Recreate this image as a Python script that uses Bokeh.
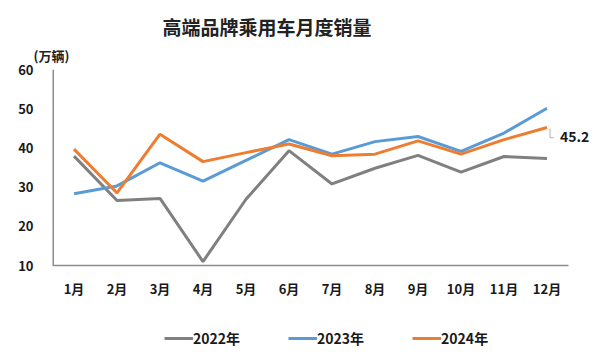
from bokeh.plotting import figure
from bokeh.models import (Range1d, FixedTicker, Legend, LegendItem, ColumnDataSource, Title)
from bokeh.core.properties import value
from bokeh.embed import file_html
from bokeh.resources import INLINE

months = ["1月", "2月", "3月", "4月", "5月", "6月", "7月", "8月", "9月", "10月", "11月", "12月"]
s2022 = [37.9, 26.6, 27.1, 11.0, 26.9, 39.3, 30.8, 34.8, 38.1, 33.8, 37.8, 37.3]
s2023 = [28.3, 30.3, 36.2, 31.5, 36.8, 42.1, 38.4, 41.6, 42.9, 39.1, 43.8, 50.1]
s2024 = [39.7, 28.5, 43.5, 36.5, 38.8, 41.0, 38.0, 38.4, 41.8, 38.4, 42.1, 45.2]
series_names = ["2022年", "2023年", "2024年"]
colors = ["#808080", "#5b9bd5", "#ed7d31"]
y_ticks = [10, 20, 30, 40, 50, 60]

FONT = "Noto Sans CJK SC"
n = len(months)
xs = [i + 0.5 for i in range(n)]
y_lo, y_hi = y_ticks[0], y_ticks[-1]

LEFT, TOP = 52, 69
FW, FH = 540, 283            # frame reaches the bottom of the canvas (legend lives inside)
PLOT_H = 196                 # pixel height of the 10..60 value band
x_end = n * FW / 516.0       # room right of the last month for the data label
y_start = y_lo - (FH - PLOT_H) * (y_hi - y_lo) / PLOT_H

p = figure(frame_width=FW, frame_height=FH, output_backend="svg", toolbar_location=None,
           x_range=Range1d(0, x_end), y_range=Range1d(y_start, y_hi),
           min_border_left=LEFT, min_border_right=0, min_border_top=TOP,
           min_border_bottom=0)
p.outline_line_color = None
p.background_fill_color = "white"
p.border_fill_color = "white"
p.xgrid.grid_line_color = None
p.ygrid.grid_line_color = None

# axes
p.xaxis.ticker = FixedTicker(ticks=xs)
p.xaxis.major_label_overrides = {x: m for x, m in zip(xs, months)}
p.xaxis.fixed_location = y_lo
p.yaxis.ticker = FixedTicker(ticks=y_ticks)
for ax in (p.xaxis[0], p.yaxis[0]):
    ax.axis_line_color = None
    ax.major_tick_line_color = None
    ax.minor_tick_line_color = None
    ax.major_label_text_font = FONT
    ax.major_label_text_font_style = "bold"
    ax.major_label_text_font_size = "13px"
    ax.major_label_text_color = "#1a1a1a"
p.yaxis.major_label_standoff = 13
p.xaxis.major_label_standoff = 7

# axis lines limited to the value band / month span
p.segment(x0=[0], y0=[y_lo], x1=[n], y1=[y_lo], line_color="#8c8c8c", line_width=1.6)
p.segment(x0=[0], y0=[y_lo], x1=[0], y1=[y_hi], line_color="#8c8c8c", line_width=3)

renderers = []
for name, data, c in zip(series_names, [s2022, s2023, s2024], colors):
    src = ColumnDataSource(dict(x=xs, y=data))
    r = p.line("x", "y", source=src, line_color=c, line_width=3)
    renderers.append(r)

# data label for last 2024 point
p.line(x=[xs[-1] + 0.07, xs[-1] + 0.07, xs[-1] + 0.16],
       y=[s2024[-1] - 0.3, s2024[-1] - 2.6, s2024[-1] - 2.6],
       line_color="#b0b0b0", line_width=1)
p.text(x=[xs[-1]], y=[s2024[-1]], text=[f"{s2024[-1]}"], x_offset=13, y_offset=9,
       text_font=value(FONT), text_font_style="bold", text_font_size="14px",
       text_color="#1a1a1a", text_baseline="middle", text_align="left")

legend = Legend(items=[LegendItem(label=nm, renderers=[r]) for nm, r in zip(series_names, renderers)],
                orientation="horizontal", location=(112, 4),
                glyph_width=29, glyph_height=18, label_height=18, label_standoff=0, spacing=48,
                padding=0, margin=0, border_line_color=None, background_fill_alpha=0,
                label_text_font=FONT, label_text_font_style="bold",
                label_text_font_size="14px", label_text_color="#1a1a1a")
p.add_layout(legend, "center")

unit = Title(text="(万辆)", align="left", offset=-19, standoff=9,
             text_font=FONT, text_font_style="bold", text_font_size="13px",
             text_color="#222222")
p.add_layout(unit, "above")
main = Title(text="高端品牌乘用车月度销量", align="left", offset=110, standoff=0,
             text_font=FONT, text_font_style="bold", text_font_size="19px",
             text_color="#222222")
p.add_layout(main, "above")

open("out.html", "w").write(file_html(p, INLINE))
